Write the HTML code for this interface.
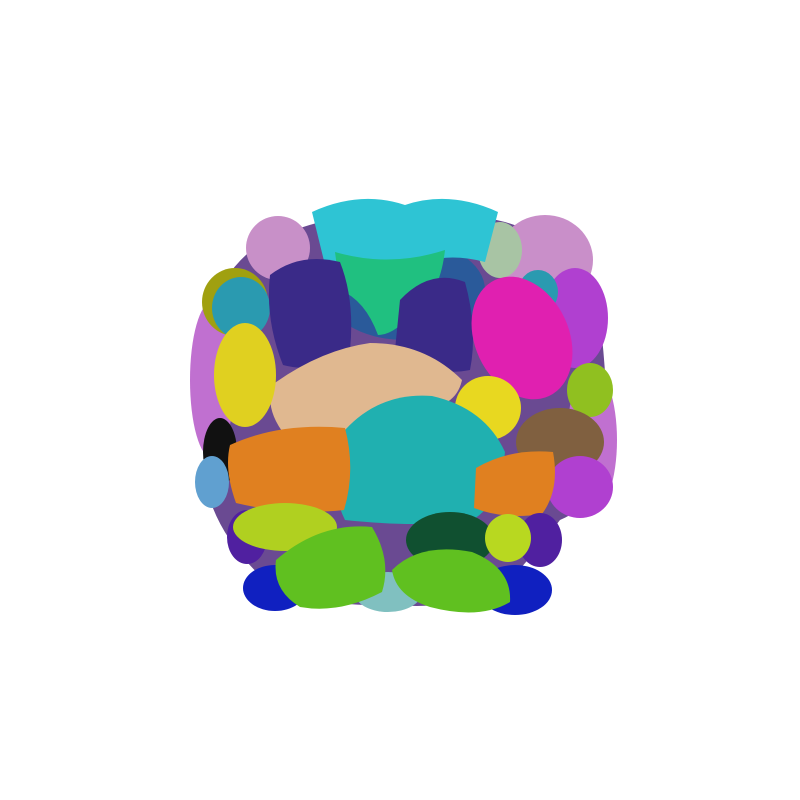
<!DOCTYPE html>
<html><head><meta charset="utf-8"><style>
html,body{margin:0;padding:0;background:#fff;}
svg{display:block;}
</style></head><body>
<svg width="800" height="800" viewBox="0 0 800 800">
<g>
<path d="M300 228 Q400 195 505 222 Q585 245 600 320 Q610 400 605 470 Q595 505 560 520 Q530 560 500 590 Q440 610 400 605 Q320 608 270 585 Q225 545 210 500 Q195 420 205 320 Q235 240 300 228 Z" fill="#6a4a92"/>
<ellipse cx="405" cy="290" rx="80" ry="50" fill="#2a5a9a"/>
</g>
<g>
<ellipse cx="278" cy="248" rx="32" ry="32" fill="#c890c8"/>
<ellipse cx="545" cy="260" rx="48" ry="45" fill="#c98fc9"/>
<ellipse cx="500" cy="250" rx="22" ry="28" fill="#a8c4a4"/>
<path d="M312 212 Q360 190 405 205 Q450 190 498 212 L485 262 Q440 250 405 270 Q370 250 325 265 Z" fill="#2ec4d4"/>
<ellipse cx="575" cy="318" rx="33" ry="50" fill="#b040d0"/>
<ellipse cx="538" cy="292" rx="20" ry="22" fill="#2a9ab0"/>
<ellipse cx="212" cy="380" rx="22" ry="78" fill="#c070d0"/>
<ellipse cx="235" cy="302" rx="33" ry="34" fill="#a0a010"/>
<ellipse cx="241" cy="308" rx="29" ry="31" fill="#2a9ab0"/>
<ellipse cx="592" cy="440" rx="25" ry="72" fill="#c070d0"/>
</g>
<g>
<path d="M335 252 Q390 268 445 250 Q440 295 415 310 Q395 335 378 335 Q365 300 340 290 Z" fill="#20c080"/>
<path d="M270 275 Q300 252 340 262 Q355 300 350 350 Q320 375 283 365 Q265 320 270 275 Z" fill="#3a2a88"/>
<path d="M400 300 Q430 268 465 282 Q478 330 470 370 Q430 378 395 350 Z" fill="#3a2a88"/>
<ellipse cx="522" cy="338" rx="47" ry="64" transform="rotate(-25 522 338)" fill="#e020b0"/>
<ellipse cx="590" cy="390" rx="23" ry="27" fill="#90c020"/>
<path d="M272 385 Q320 350 370 343 Q425 343 462 380 Q455 412 410 408 Q372 420 362 448 Q320 445 285 435 Q265 410 272 385 Z" fill="#e0b890"/>
<ellipse cx="245" cy="375" rx="31" ry="52" fill="#e0d020"/>
<ellipse cx="488" cy="408" rx="33" ry="32" fill="#e8d820"/>
<ellipse cx="560" cy="442" rx="44" ry="34" fill="#806040"/>
<ellipse cx="220" cy="452" rx="17" ry="34" fill="#111"/>
<ellipse cx="212" cy="482" rx="17" ry="26" fill="#60a0d0"/>
<ellipse cx="580" cy="487" rx="33" ry="31" fill="#b040d0"/>
<path d="M345 430 Q380 392 432 396 Q485 408 505 452 Q500 505 472 520 Q420 528 345 520 Q325 480 345 430 Z" fill="#20b0b0"/>
<path d="M230 445 Q280 422 345 428 Q356 470 344 510 Q290 516 236 503 Q224 470 230 445 Z" fill="#e08020"/>
<path d="M476 468 Q510 448 553 452 Q560 490 542 514 Q505 520 474 508 Z" fill="#e08020"/>
</g>
<g>
<ellipse cx="247" cy="537" rx="20" ry="27" fill="#5020a0"/>
<ellipse cx="540" cy="540" rx="22" ry="27" fill="#5020a0"/>
<ellipse cx="285" cy="527" rx="52" ry="24" fill="#b0d020"/>
<ellipse cx="450" cy="540" rx="44" ry="28" fill="#105030"/>
<ellipse cx="508" cy="538" rx="23" ry="24" fill="#b8d820"/>
<ellipse cx="388" cy="592" rx="34" ry="20" fill="#80c0c0"/>
<ellipse cx="275" cy="588" rx="32" ry="23" fill="#1020c0"/>
<ellipse cx="515" cy="590" rx="37" ry="25" fill="#1020c0"/>
<path d="M276 560 Q320 522 372 527 Q392 560 382 592 Q340 614 300 607 Q272 590 276 560 Z" fill="#60c020"/>
<path d="M392 570 Q420 542 472 552 Q512 568 510 602 Q480 620 430 607 Q396 596 392 570 Z" fill="#60c020"/>
</g>
</svg>
</body></html>
